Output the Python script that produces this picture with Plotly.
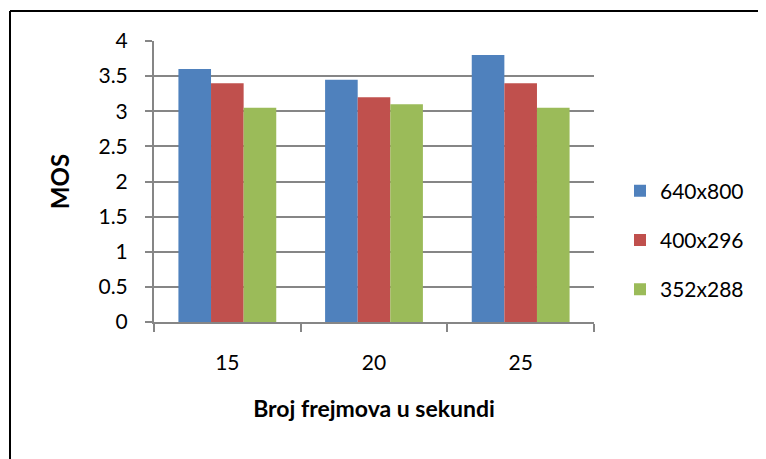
import plotly.graph_objects as go

# frame rates (x categories)
categories = ["15", "20", "25"]

# MOS per resolution
mos_640x800 = [3.6, 3.45, 3.8]
mos_400x296 = [3.4, 3.2, 3.4]
mos_352x288 = [3.05, 3.1, 3.05]

series = [
    ("640x800", mos_640x800, "#4F81BD"),
    ("400x296", mos_400x296, "#C0504D"),
    ("352x288", mos_352x288, "#9BBB59"),
]

FONT = "Lato, 'Open Sans', sans-serif"
GRID = "#868686"

fig = go.Figure()
for name, vals, color in series:
    fig.add_trace(go.Bar(
        x=categories, y=vals, name=name,
        marker=dict(color=color, line=dict(width=0)),
        legendgroup=name,
    ))

# page body has an 8px margin, so the figure starts at (8, 8)
OFF = 8
W, H = 766 - OFF, 459 - OFF
L, R, T, B = 154 - OFF, 172, 41 - OFF, 137
pw, ph = W - L - R, H - T - B
fx = lambda px: (px - OFF - L) / pw
fy = lambda py: (H - B - (py - OFF)) / ph

# chart frame (only top and left edges fall inside the picture)
fig.add_shape(type="line", xref="paper", yref="paper",
              x0=fx(10), x1=fx(770), y0=fy(11), y1=fy(11),
              line=dict(color="black", width=2))
fig.add_shape(type="line", xref="paper", yref="paper",
              x0=fx(10), x1=fx(10), y0=fy(11), y1=fy(465),
              line=dict(color="black", width=2))

fig.update_layout(
    width=W, height=H,
    margin=dict(l=L, r=R, t=T, b=B, autoexpand=False),
    barmode="group", bargap=0.333, bargroupgap=0,
    plot_bgcolor="white", paper_bgcolor="white",
    font=dict(family=FONT, size=21, color="black"),
    legend=dict(
        x=fx(620), y=fy(240), xanchor="left", yanchor="middle",
        font=dict(size=21), tracegroupgap=19, itemwidth=30,
        bgcolor="rgba(0,0,0,0)",
    ),
    xaxis=dict(
        showline=True, linecolor=GRID, linewidth=2,
        ticks="outside", tickson="boundaries", ticklen=8, tickwidth=2,
        tickcolor=GRID, ticklabelstandoff=21,
        title=dict(text="<b>Broj frejmova u sekundi</b>", standoff=28,
                   font=dict(size=23)),
    ),
    yaxis=dict(
        range=[0, 4], dtick=0.5,
        showgrid=True, gridcolor=GRID, gridwidth=2,
        showline=True, linecolor=GRID, linewidth=2,
        ticks="outside", ticklen=7, tickwidth=2, tickcolor=GRID,
        ticklabelstandoff=13, zeroline=False,
        title=dict(text="<b>MOS</b>", standoff=22, font=dict(size=24)),
    ),
)

fig.write_html("out.html")
